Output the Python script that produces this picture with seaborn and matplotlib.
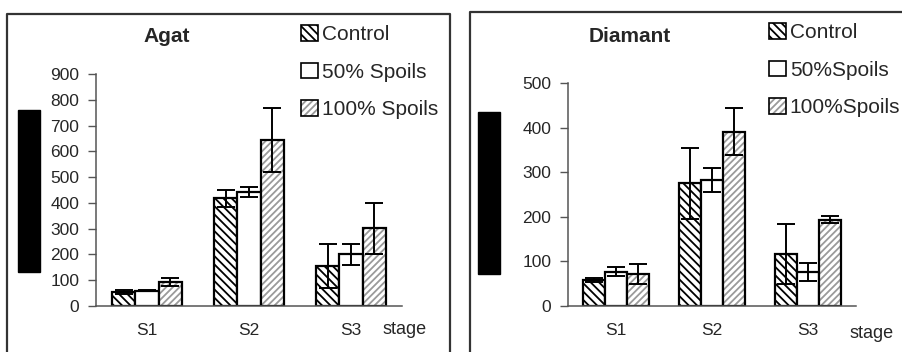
import matplotlib
matplotlib.use('Agg')
import matplotlib.pyplot as plt
import numpy as np
import pandas as pd
import seaborn as sns
from matplotlib.patches import Patch, Rectangle
from matplotlib.lines import Line2D

sns.set_style('white')
plt.rcParams['font.family'] = ['Liberation Sans', 'DejaVu Sans']
plt.rcParams['hatch.linewidth'] = 1.3

# data
stages = ['S1', 'S2', 'S3']
treatments = ['Control', '50% Spoils', '100% Spoils']

agat_control = [54, 418, 155]
agat_50 = [60, 442, 200]
agat_100 = [94, 644, 301]
agat_control_err = [8, 33, 84]
agat_50_err = [3, 20, 40]
agat_100_err = [15, 125, 100]

diam_control = [58, 275, 117]
diam_50 = [77, 283, 76]
diam_100 = [72, 391, 193]
diam_control_err = [5, 80, 67]
diam_50_err = [10, 27, 20]
diam_100_err = [22, 53, 8]

agat_labels = ['Control', '50% Spoils', '100% Spoils']
diam_labels = ['Control', '50%Spoils', '100%Spoils']

W, H = 903, 352
fig = plt.figure(figsize=(W / 100, H / 100), dpi=100)
fig.patch.set_facecolor('white')

HATCH_100 = '#9a9a9a'


def px(x0, y0, x1, y1):
    # pixel box -> figure fraction rect
    return [x0 / W, 1 - y1 / H, (x1 - x0) / W, (y1 - y0) / H]


def make_df(ctrl, p50, p100, e1, e2, e3):
    rows = []
    for vals, errs, t in zip([ctrl, p50, p100], [e1, e2, e3], treatments):
        for s, v, e in zip(stages, vals, errs):
            rows.append({'stage': s, 'treatment': t, 'value': v, 'err': e})
    return pd.DataFrame(rows)


def panel(ax, df, ymax):
    sns.barplot(data=df, x='stage', y='value', hue='treatment',
                hue_order=treatments, order=stages,
                palette=['white'] * 3, edgecolor='black', linewidth=1.6,
                errorbar=None, width=0.68, gap=0, legend=False, ax=ax)
    bars = list(ax.containers)
    for i, cont in enumerate(bars):
        sub = df[df.treatment == treatments[i]]
        xs = [b.get_x() + b.get_width() / 2 for b in cont.patches]
        for b in cont.patches:
            if i == 0:
                b.set_hatch('\\\\\\\\')
            elif i == 2:
                b.set_edgecolor(HATCH_100)
                b.set_linewidth(0)
                b.set_hatch('/////')
                ax.add_patch(Rectangle(b.get_xy(), b.get_width(), b.get_height(),
                                       fill=False, edgecolor='black', lw=1.6, zorder=b.get_zorder() + 0.1))
        ax.errorbar(xs, sub['value'].values, yerr=sub['err'].values, fmt='none',
                    ecolor='black', elinewidth=1.4, capsize=6.5, capthick=1.4, zorder=5)

    ax.set_xlim(-0.5, 2.5)
    ax.set_ylim(0, ymax)
    ax.set_yticks(np.arange(0, ymax + 1, 100))
    ax.set_xlabel('')
    ax.set_ylabel('')
    ax.set_xticks([-0.5, 0.5, 1.5, 2.5], minor=True)
    ax.tick_params(axis='x', which='major', length=0, pad=12, labelsize=12.5)
    ax.tick_params(axis='x', which='minor', length=6, width=1, color='#555555', direction='out')
    ax.tick_params(axis='y', length=6, width=1, color='#555555', direction='out', pad=6, labelsize=12.5, left=True)
    for s in ['top', 'right']:
        ax.spines[s].set_visible(False)
    for s in ['left', 'bottom']:
        ax.spines[s].set_color('#555555')
        ax.spines[s].set_linewidth(1.1)
    ax.set_facecolor('none')
    ax.grid(False)

    handles = [
        Patch(facecolor='white', edgecolor='black', hatch='\\\\\\\\', lw=1.2),
        Patch(facecolor='white', edgecolor='black', lw=1.2),
        (Patch(facecolor='white', edgecolor=HATCH_100, hatch='/////', lw=0),
         Patch(facecolor='none', edgecolor='black', lw=1.2)),
    ]
    return handles


# frames
fig.add_artist(Line2D([7 / W, 7 / W, 450 / W, 450 / W], [0, 1 - 14 / H, 1 - 14 / H, 0],
                      color='#333333', lw=1.6))
fig.add_artist(Line2D([470 / W, 470 / W, 1], [0, 1 - 12 / H, 1 - 12 / H],
                      color='#333333', lw=1.6))

ax1 = fig.add_axes(px(96, 74, 402, 306))
h1 = panel(ax1, make_df(agat_control, agat_50, agat_100,
                        agat_control_err, agat_50_err, agat_100_err), 900)
ax2 = fig.add_axes(px(568, 83, 856, 306))
h2 = panel(ax2, make_df(diam_control, diam_50, diam_100,
                        diam_control_err, diam_50_err, diam_100_err), 500)

leg_kw = dict(loc='upper left', frameon=False, fontsize=15, handlelength=0.8, handleheight=0.8,
              handletextpad=0.2, labelspacing=0.88, borderaxespad=0, borderpad=0)
fig.legend(h1, agat_labels, bbox_to_anchor=(301 / W, 1 - 25 / H), **leg_kw)
fig.legend(h2, diam_labels, bbox_to_anchor=(769 / W, 1 - 23 / H), **leg_kw)

fig.text(167 / W, 1 - 36 / H, 'Agat', ha='center', va='center', fontsize=15, fontweight='bold')
fig.text(630 / W, 1 - 37 / H, 'Diamant', ha='center', va='center', fontsize=15, fontweight='bold')

fig.text(383 / W, 1 - 330 / H, 'stage', ha='left', va='center', fontsize=13)
fig.text(850 / W, 1 - 333 / H, 'stage', ha='left', va='center', fontsize=13)

# redacted y-axis labels
fig.add_artist(Rectangle((18 / W, 1 - 272 / H), 22 / W, 162 / H, color='black', transform=fig.transFigure))
fig.add_artist(Rectangle((478 / W, 1 - 274 / H), 22 / W, 162 / H, color='black', transform=fig.transFigure))

fig.savefig('out.png', dpi=100, facecolor='white')
